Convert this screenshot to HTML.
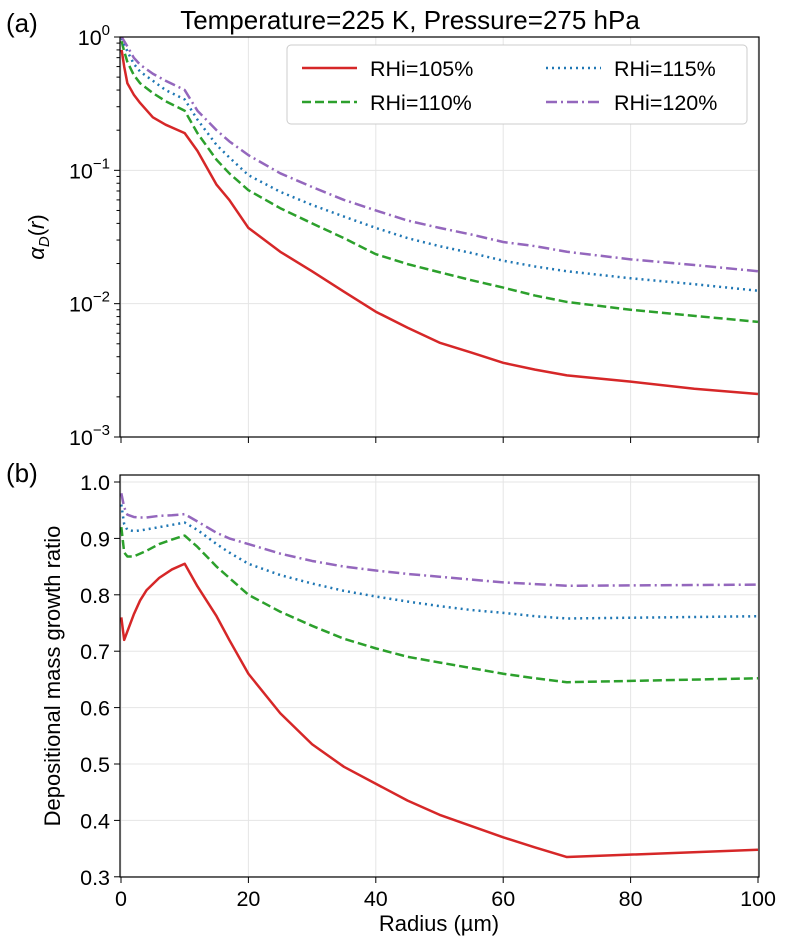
<!DOCTYPE html>
<html><head><meta charset="utf-8"><style>
body{margin:0;background:#fff;}
svg text{font-family:"Liberation Sans","DejaVu Sans",sans-serif;fill:#000;}
</style></head><body>
<svg id="c" width="787" height="944" xmlns="http://www.w3.org/2000/svg"></svg>
<script>
const radiusTop=[0.1,0.5,1,2,3,5,7,10,12,15,17,20,25,30,35,40,45,50,55,60,65,70,80,90,100];
const alphaRed=[0.80,0.6,0.45,0.37,0.32,0.25,0.22,0.19,0.14,0.078,0.06,0.037,0.0245,0.0175,0.0123,0.0087,0.0066,0.0051,0.0043,0.0036,0.0032,0.0029,0.0026,0.0023,0.0021];
const alphaGreen=[0.93,0.78,0.65,0.52,0.45,0.38,0.33,0.28,0.19,0.12,0.095,0.071,0.052,0.040,0.031,0.0235,0.0198,0.0172,0.015,0.0132,0.0115,0.0103,0.009,0.0081,0.0073];
const alphaBlue=[0.98,0.88,0.78,0.63,0.55,0.47,0.40,0.34,0.24,0.155,0.125,0.092,0.069,0.055,0.045,0.037,0.031,0.027,0.024,0.021,0.019,0.0175,0.0155,0.014,0.0125];
const alphaPurple=[1.0,0.93,0.85,0.70,0.62,0.53,0.47,0.40,0.28,0.2,0.165,0.13,0.095,0.075,0.06,0.05,0.042,0.037,0.033,0.029,0.027,0.0245,0.0215,0.0195,0.0175];
const radiusBot=[0.05,0.5,1,2,3,4,6,8,10,12,15,17,20,25,30,35,40,45,50,55,60,65,70,100];
const ratioRed=[0.76,0.72,0.735,0.765,0.79,0.808,0.83,0.845,0.855,0.815,0.762,0.72,0.66,0.59,0.535,0.495,0.465,0.435,0.41,0.39,0.37,0.352,0.335,0.348];
const ratioGreen=[0.92,0.875,0.868,0.868,0.873,0.878,0.89,0.898,0.905,0.885,0.85,0.83,0.80,0.77,0.745,0.722,0.705,0.69,0.68,0.67,0.66,0.652,0.645,0.652];
const ratioBlue=[0.96,0.925,0.915,0.913,0.914,0.916,0.92,0.924,0.928,0.915,0.89,0.875,0.855,0.835,0.82,0.807,0.797,0.788,0.78,0.773,0.768,0.762,0.758,0.762];
const ratioPurple=[0.98,0.955,0.942,0.938,0.937,0.937,0.94,0.941,0.943,0.93,0.91,0.9,0.89,0.873,0.86,0.85,0.843,0.837,0.832,0.827,0.822,0.819,0.816,0.818];
const xTicks=[0,20,40,60,80,100];
const ratioTicks=[0.3,0.4,0.5,0.6,0.7,0.8,0.9,1.0];
const logTicks=[0,-1,-2,-3];
const seriesNames=["RHi=105%","RHi=110%","RHi=115%","RHi=120%"];

const svg=document.getElementById('c');const NS="http://www.w3.org/2000/svg";
function mk(t,a,p){const e=document.createElementNS(NS,t);for(const k in a)e.setAttribute(k,a[k]);(p||svg).appendChild(e);return e;}
const L=120,R=759,T1=37,B1=437,T2=475,B2=877;
const X=r=>121+r*6.37;
const Y1=v=>T1-(Math.log10(v))*133.33;
const Y2=v=>482+(1-v)*564;
const colors=["#d62728","#2ca02c","#1f77b4","#9467bd"];
const dashes=["none","9,4","2,4","11,4,2,4"];
const FS=21.5;
xTicks.forEach(t=>{
 let g=mk('line',{x1:X(t),x2:X(t),y1:T1,y2:B1,stroke:'#e5e5e5'});
 
 g=mk('line',{x1:X(t),x2:X(t),y1:T2,y2:B2,stroke:'#e5e5e5'});
 
 let k=mk('line',{x1:X(t),x2:X(t),y1:B1,y2:B1+6,stroke:'#000'});
 
 k=mk('line',{x1:X(t),x2:X(t),y1:B2,y2:B2+6,stroke:'#000'});
 
 const tx=mk('text',{x:X(t),y:B2+29,'font-size':FS,'text-anchor':'middle'});tx.textContent=t;
 
});
logTicks.forEach(p=>{
 const y=Y1(Math.pow(10,p));
 let g=mk('line',{x1:L,x2:R,y1:y,y2:y,stroke:'#e5e5e5'});
 
 let k=mk('line',{x1:L-6,x2:L,y1:y,y2:y,stroke:'#000'});
 
 const tx=mk('text',{x:L-10,y:y+8,'font-size':FS,'text-anchor':'end'});
 tx.innerHTML='10<tspan dy="-10" font-size="15">'+(p===0?'0':'−'+(-p))+'</tspan>';
 
 if(p>-3)for(let m=2;m<10;m++){const yy=Y1(m*Math.pow(10,p-1));
  const mt=mk('line',{x1:L-3.5,x2:L,y1:yy,y2:yy,stroke:'#000'});
  }
});
ratioTicks.forEach(v=>{
 const y=Y2(v);
 let g=mk('line',{x1:L,x2:R,y1:y,y2:y,stroke:'#e5e5e5'});
 
 let k=mk('line',{x1:L-6,x2:L,y1:y,y2:y,stroke:'#000'});
 
 const tx=mk('text',{x:L-10,y:y+8,'font-size':FS,'text-anchor':'end'});tx.textContent=v.toFixed(1);
 
});
const topSeries=[alphaRed,alphaGreen,alphaBlue,alphaPurple],botSeries=[ratioRed,ratioGreen,ratioBlue,ratioPurple];
const clip1=mk('clipPath',{id:'cp1'});mk('rect',{x:L,y:T1,width:R-L,height:B1-T1},clip1);
const clip2=mk('clipPath',{id:'cp2'});mk('rect',{x:L,y:T2,width:R-L,height:B2-T2},clip2);
topSeries.forEach((s,i)=>{
 const p=mk('polyline',{points:s.map((v,j)=>X(radiusTop[j])+','+Y1(v)).join(' '),fill:'none',stroke:colors[i],'stroke-width':2.5,'stroke-linejoin':'round','stroke-dasharray':dashes[i],'clip-path':'url(#cp1)'});
 
});
botSeries.forEach((s,i)=>{
 const p=mk('polyline',{points:s.map((v,j)=>X(radiusBot[j])+','+Y2(v)).join(' '),fill:'none',stroke:colors[i],'stroke-width':2.5,'stroke-linejoin':'round','stroke-dasharray':dashes[i],'clip-path':'url(#cp2)'});
 
});
let f=mk('rect',{x:L,y:T1,width:R-L,height:B1-T1,fill:'none',stroke:'#000','stroke-width':1.2});

f=mk('rect',{x:L,y:T2,width:R-L,height:B2-T2,fill:'none',stroke:'#000','stroke-width':1.2});

const lg=mk('g',{});
mk('rect',{x:287,y:45,width:460,height:79,rx:4,fill:'#fff',stroke:'#ccc'},lg);
seriesNames.forEach((n,i)=>{
 const cx=i<2?302:546,cy=(i%2===0)?68:102;
 mk('line',{x1:cx,x2:cx+55,y1:cy,y2:cy,stroke:colors[i],'stroke-width':2.5,'stroke-dasharray':dashes[i]},lg);
 const t=mk('text',{x:cx+68,y:cy+8,'font-size':FS},lg);t.textContent=n;
 
});
function txt(s,a,name){const t=mk('text',a);t.innerHTML=s;}
txt('Temperature=225 K, Pressure=275 hPa',{x:410,y:29,'font-size':26,'text-anchor':'middle'},'chart-title');
txt('(a)',{x:6,y:32,'font-size':26},'panel-a-label');
txt('(b)',{x:6,y:482,'font-size':26},'panel-b-label');
txt('Radius (µm)',{x:439,y:931,'font-size':22,'text-anchor':'middle'},'x-axis-title');
txt('<tspan font-style="italic">α</tspan><tspan font-style="italic" font-size="15" dy="5">D</tspan><tspan dy="-5">(</tspan><tspan font-style="italic">r</tspan>)',{x:0,y:0,'font-size':22,'text-anchor':'middle',transform:'translate(44,237) rotate(-90)'},'y-axis-title-top');
txt('Depositional mass growth ratio',{x:0,y:0,'font-size':22,'text-anchor':'middle',transform:'translate(60,676) rotate(-90)'},'y-axis-title-bottom');
</script>
</body></html>
